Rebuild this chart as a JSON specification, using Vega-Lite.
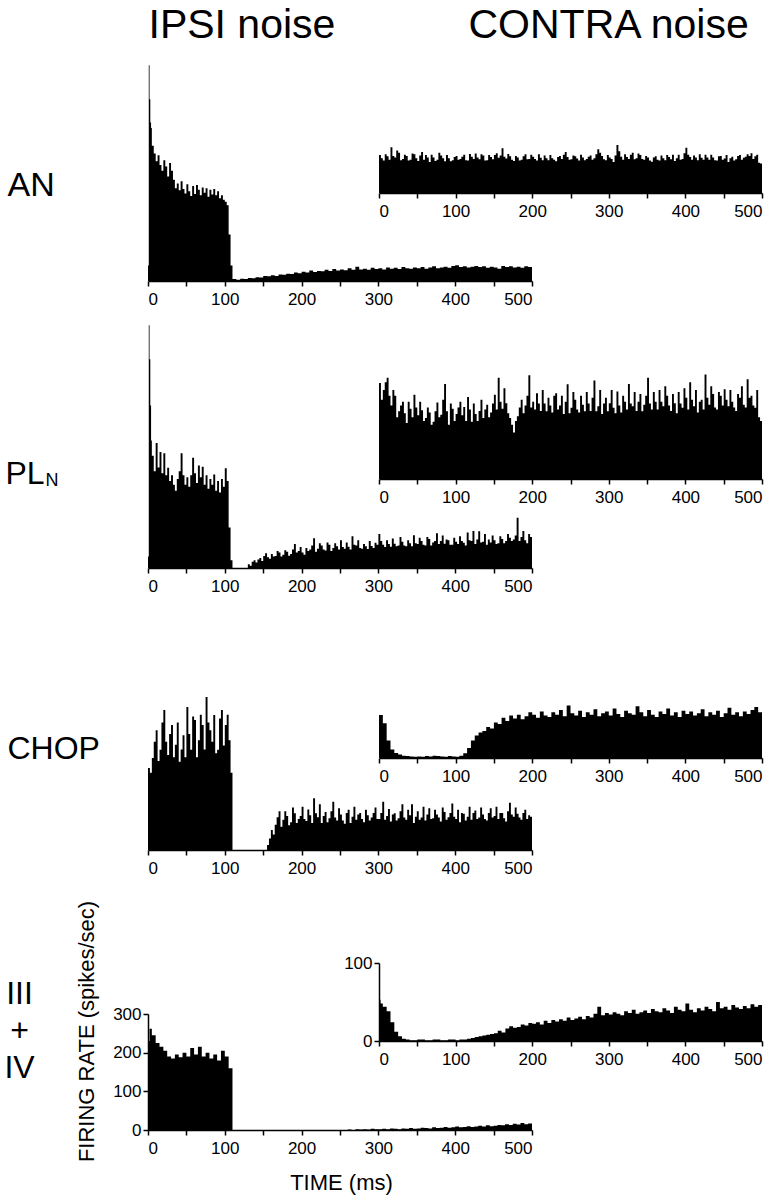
{
  "$schema": "https://vega.github.io/schema/vega-lite/v6.json",
  "width": 782,
  "height": 1200,
  "autosize": "none",
  "padding": 0,
  "background": "white",
  "config": {
    "view": {"stroke": null},
    "axis": {
      "grid": false,
      "domainColor": "black",
      "tickColor": "black",
      "labelColor": "black",
      "titleColor": "black",
      "labelFont": "Liberation Sans",
      "titleFont": "Liberation Sans",
      "labelFontSize": 17,
      "domainWidth": 1.5,
      "tickWidth": 1.5,
      "tickSize": 5,
      "labelPadding": 5,
      "titleFontWeight": "normal"
    }
  },
  "datasets": {
    "anI": [{"t":0,"v":40},{"t":1,"v":558},{"t":2,"v":470},{"t":3,"v":410},{"t":4,"v":396},{"t":5,"v":350},{"t":7.5,"v":330},{"t":10,"v":310},{"t":12.5,"v":325},{"t":15,"v":300},{"t":17.5,"v":285},{"t":20,"v":312},{"t":22.5,"v":296},{"t":25,"v":270},{"t":27.5,"v":305},{"t":30,"v":285},{"t":32.5,"v":262},{"t":35,"v":240},{"t":37.5,"v":252},{"t":40,"v":235},{"t":42.5,"v":258},{"t":45,"v":238},{"t":47.5,"v":226},{"t":50,"v":250},{"t":52.5,"v":232},{"t":55,"v":220},{"t":57.5,"v":246},{"t":60,"v":225},{"t":62.5,"v":248},{"t":65,"v":236},{"t":67.5,"v":222},{"t":70,"v":242},{"t":72.5,"v":228},{"t":75,"v":240},{"t":77.5,"v":218},{"t":80,"v":236},{"t":82.5,"v":224},{"t":85,"v":238},{"t":87.5,"v":222},{"t":90,"v":232},{"t":92.5,"v":214},{"t":95,"v":222},{"t":97.5,"v":210},{"t":100,"v":205},{"t":102.5,"v":196},{"t":105,"v":120},{"t":107.5,"v":40},{"t":110,"v":5},{"t":115,"v":3},{"t":120,"v":6},{"t":125,"v":5},{"t":130,"v":8},{"t":135,"v":7},{"t":140,"v":10},{"t":145,"v":9},{"t":150,"v":13},{"t":155,"v":12},{"t":160,"v":15},{"t":165,"v":13},{"t":170,"v":17},{"t":175,"v":16},{"t":180,"v":19},{"t":185,"v":18},{"t":190,"v":22},{"t":195,"v":20},{"t":200,"v":24},{"t":205,"v":22},{"t":210,"v":27},{"t":215,"v":23},{"t":220,"v":26},{"t":225,"v":25},{"t":230,"v":29},{"t":235,"v":26},{"t":240,"v":31},{"t":245,"v":27},{"t":250,"v":30},{"t":255,"v":28},{"t":260,"v":33},{"t":265,"v":29},{"t":270,"v":37},{"t":275,"v":30},{"t":280,"v":32},{"t":285,"v":29},{"t":290,"v":34},{"t":295,"v":31},{"t":300,"v":33},{"t":305,"v":30},{"t":310,"v":35},{"t":315,"v":32},{"t":320,"v":34},{"t":325,"v":31},{"t":330,"v":36},{"t":335,"v":33},{"t":340,"v":32},{"t":345,"v":35},{"t":350,"v":33},{"t":355,"v":36},{"t":360,"v":32},{"t":365,"v":35},{"t":370,"v":38},{"t":375,"v":33},{"t":380,"v":35},{"t":385,"v":37},{"t":390,"v":34},{"t":395,"v":39},{"t":400,"v":41},{"t":405,"v":36},{"t":410,"v":38},{"t":415,"v":35},{"t":420,"v":37},{"t":425,"v":39},{"t":430,"v":36},{"t":435,"v":38},{"t":440,"v":34},{"t":445,"v":37},{"t":450,"v":35},{"t":455,"v":32},{"t":460,"v":39},{"t":465,"v":36},{"t":470,"v":38},{"t":475,"v":35},{"t":480,"v":37},{"t":485,"v":34},{"t":490,"v":38},{"t":495,"v":36},{"t":500,"v":36}],
    "anC": [{"t":0,"v":98},{"t":5,"v":84},{"t":10,"v":95},{"t":15,"v":118},{"t":20,"v":92},{"t":25,"v":104},{"t":30,"v":88},{"t":35,"v":96},{"t":40,"v":86},{"t":45,"v":100},{"t":50,"v":83},{"t":55,"v":106},{"t":60,"v":98},{"t":65,"v":80},{"t":70,"v":92},{"t":75,"v":86},{"t":80,"v":97},{"t":85,"v":82},{"t":90,"v":90},{"t":95,"v":85},{"t":100,"v":96},{"t":105,"v":88},{"t":110,"v":99},{"t":115,"v":84},{"t":120,"v":94},{"t":125,"v":102},{"t":130,"v":87},{"t":135,"v":97},{"t":140,"v":85},{"t":145,"v":93},{"t":150,"v":98},{"t":155,"v":91},{"t":160,"v":116},{"t":165,"v":89},{"t":170,"v":95},{"t":175,"v":83},{"t":180,"v":92},{"t":185,"v":86},{"t":190,"v":100},{"t":195,"v":88},{"t":200,"v":94},{"t":205,"v":84},{"t":210,"v":91},{"t":215,"v":97},{"t":220,"v":85},{"t":225,"v":90},{"t":230,"v":82},{"t":235,"v":96},{"t":240,"v":99},{"t":245,"v":93},{"t":250,"v":87},{"t":255,"v":95},{"t":260,"v":84},{"t":265,"v":92},{"t":270,"v":88},{"t":275,"v":97},{"t":280,"v":90},{"t":285,"v":113},{"t":290,"v":96},{"t":295,"v":85},{"t":300,"v":92},{"t":305,"v":80},{"t":310,"v":124},{"t":315,"v":94},{"t":320,"v":100},{"t":325,"v":88},{"t":330,"v":104},{"t":335,"v":90},{"t":340,"v":98},{"t":345,"v":86},{"t":350,"v":92},{"t":355,"v":81},{"t":360,"v":95},{"t":365,"v":84},{"t":370,"v":90},{"t":375,"v":98},{"t":380,"v":87},{"t":385,"v":83},{"t":390,"v":99},{"t":395,"v":88},{"t":400,"v":117},{"t":405,"v":93},{"t":410,"v":97},{"t":415,"v":85},{"t":420,"v":91},{"t":425,"v":99},{"t":430,"v":86},{"t":435,"v":92},{"t":440,"v":84},{"t":445,"v":96},{"t":450,"v":89},{"t":455,"v":80},{"t":460,"v":94},{"t":465,"v":87},{"t":470,"v":98},{"t":475,"v":91},{"t":480,"v":100},{"t":485,"v":103},{"t":490,"v":95},{"t":495,"v":78},{"t":500,"v":78},
      {"t":2.5,"v":90},{"t":7.5,"v":100},{"t":12.5,"v":86},{"t":17.5,"v":96},{"t":22.5,"v":110},{"t":27.5,"v":85},{"t":32.5,"v":99},{"t":37.5,"v":84},{"t":42.5,"v":102},{"t":47.5,"v":90},{"t":52.5,"v":97},{"t":57.5,"v":86},{"t":62.5,"v":92},{"t":67.5,"v":99},{"t":72.5,"v":83},{"t":77.5,"v":104},{"t":82.5,"v":90},{"t":87.5,"v":98},{"t":92.5,"v":82},{"t":97.5,"v":93},{"t":102.5,"v":86},{"t":107.5,"v":94},{"t":112.5,"v":85},{"t":117.5,"v":101},{"t":122.5,"v":88},{"t":127.5,"v":92},{"t":132.5,"v":100},{"t":137.5,"v":84},{"t":142.5,"v":98},{"t":147.5,"v":87},{"t":152.5,"v":103},{"t":157.5,"v":97},{"t":162.5,"v":94},{"t":167.5,"v":101},{"t":172.5,"v":86},{"t":177.5,"v":96},{"t":182.5,"v":84},{"t":187.5,"v":95},{"t":192.5,"v":87},{"t":197.5,"v":99},{"t":202.5,"v":88},{"t":207.5,"v":100},{"t":212.5,"v":85},{"t":217.5,"v":90},{"t":222.5,"v":98},{"t":227.5,"v":86},{"t":232.5,"v":93},{"t":237.5,"v":88},{"t":242.5,"v":106},{"t":247.5,"v":86},{"t":252.5,"v":97},{"t":257.5,"v":89},{"t":262.5,"v":99},{"t":267.5,"v":85},{"t":272.5,"v":94},{"t":277.5,"v":86},{"t":282.5,"v":100},{"t":287.5,"v":104},{"t":292.5,"v":87},{"t":297.5,"v":98},{"t":302.5,"v":88},{"t":307.5,"v":97},{"t":312.5,"v":108},{"t":317.5,"v":86},{"t":322.5,"v":93},{"t":327.5,"v":99},{"t":332.5,"v":87},{"t":337.5,"v":102},{"t":342.5,"v":88},{"t":347.5,"v":96},{"t":352.5,"v":84},{"t":357.5,"v":92},{"t":362.5,"v":86},{"t":367.5,"v":97},{"t":372.5,"v":85},{"t":377.5,"v":93},{"t":382.5,"v":99},{"t":387.5,"v":90},{"t":392.5,"v":86},{"t":397.5,"v":103},{"t":402.5,"v":99},{"t":407.5,"v":86},{"t":412.5,"v":92},{"t":417.5,"v":100},{"t":422.5,"v":86},{"t":427.5,"v":92},{"t":432.5,"v":99},{"t":437.5,"v":85},{"t":442.5,"v":95},{"t":447.5,"v":86},{"t":452.5,"v":98},{"t":457.5,"v":90},{"t":462.5,"v":84},{"t":467.5,"v":96},{"t":472.5,"v":86},{"t":477.5,"v":94},{"t":482.5,"v":96},{"t":487.5,"v":88},{"t":492.5,"v":99},{"t":497.5,"v":76}],
    "plI": [{"t":0,"v":30},{"t":1,"v":628},{"t":2,"v":540},{"t":3,"v":420},{"t":4,"v":330},{"t":5,"v":290},{"t":7.5,"v":250},{"t":10,"v":323},{"t":12.5,"v":260},{"t":15,"v":300},{"t":17.5,"v":245},{"t":20,"v":297},{"t":22.5,"v":240},{"t":25,"v":259},{"t":27.5,"v":225},{"t":30,"v":240},{"t":32.5,"v":215},{"t":35,"v":200},{"t":37.5,"v":230},{"t":40,"v":250},{"t":42.5,"v":297},{"t":45,"v":240},{"t":47.5,"v":215},{"t":50,"v":235},{"t":52.5,"v":210},{"t":55,"v":240},{"t":57.5,"v":285},{"t":60,"v":245},{"t":62.5,"v":220},{"t":65,"v":265},{"t":67.5,"v":235},{"t":70,"v":262},{"t":72.5,"v":215},{"t":75,"v":240},{"t":77.5,"v":205},{"t":80,"v":230},{"t":82.5,"v":215},{"t":85,"v":242},{"t":87.5,"v":200},{"t":90,"v":225},{"t":92.5,"v":195},{"t":95,"v":230},{"t":97.5,"v":210},{"t":100,"v":258},{"t":102.5,"v":225},{"t":105,"v":105},{"t":107.5,"v":20},{"t":110,"v":0},{"t":130,"v":10},{"t":135,"v":16},{"t":140,"v":14},{"t":145,"v":26},{"t":150,"v":31},{"t":155,"v":28},{"t":160,"v":36},{"t":165,"v":31},{"t":170,"v":40},{"t":175,"v":34},{"t":180,"v":42},{"t":185,"v":36},{"t":190,"v":62},{"t":195,"v":44},{"t":200,"v":40},{"t":205,"v":52},{"t":210,"v":48},{"t":215,"v":77},{"t":220,"v":50},{"t":225,"v":58},{"t":230,"v":45},{"t":235,"v":60},{"t":240,"v":52},{"t":245,"v":56},{"t":250,"v":72},{"t":255,"v":50},{"t":260,"v":55},{"t":265,"v":82},{"t":270,"v":58},{"t":275,"v":52},{"t":280,"v":62},{"t":285,"v":49},{"t":290,"v":57},{"t":295,"v":65},{"t":300,"v":88},{"t":305,"v":60},{"t":310,"v":72},{"t":315,"v":55},{"t":320,"v":63},{"t":325,"v":58},{"t":330,"v":68},{"t":335,"v":56},{"t":340,"v":64},{"t":345,"v":85},{"t":350,"v":62},{"t":355,"v":70},{"t":360,"v":58},{"t":365,"v":75},{"t":370,"v":66},{"t":375,"v":90},{"t":380,"v":70},{"t":385,"v":63},{"t":390,"v":72},{"t":395,"v":60},{"t":400,"v":68},{"t":405,"v":82},{"t":410,"v":65},{"t":415,"v":92},{"t":420,"v":70},{"t":425,"v":62},{"t":430,"v":95},{"t":435,"v":68},{"t":440,"v":60},{"t":445,"v":66},{"t":450,"v":72},{"t":455,"v":64},{"t":460,"v":75},{"t":465,"v":70},{"t":470,"v":78},{"t":475,"v":74},{"t":480,"v":130},{"t":485,"v":80},{"t":490,"v":72},{"t":495,"v":88},{"t":500,"v":88},
      {"t":132.5,"v":6},{"t":137.5,"v":20},{"t":142.5,"v":22},{"t":147.5,"v":18},{"t":152.5,"v":38},{"t":157.5,"v":24},{"t":162.5,"v":30},{"t":167.5,"v":44},{"t":172.5,"v":30},{"t":177.5,"v":46},{"t":182.5,"v":32},{"t":187.5,"v":48},{"t":192.5,"v":40},{"t":197.5,"v":54},{"t":202.5,"v":34},{"t":207.5,"v":44},{"t":212.5,"v":58},{"t":217.5,"v":42},{"t":222.5,"v":64},{"t":227.5,"v":48},{"t":232.5,"v":66},{"t":237.5,"v":44},{"t":242.5,"v":64},{"t":247.5,"v":48},{"t":252.5,"v":54},{"t":257.5,"v":66},{"t":262.5,"v":48},{"t":267.5,"v":60},{"t":272.5,"v":72},{"t":277.5,"v":50},{"t":282.5,"v":56},{"t":287.5,"v":70},{"t":292.5,"v":52},{"t":297.5,"v":60},{"t":302.5,"v":70},{"t":307.5,"v":54},{"t":312.5,"v":62},{"t":317.5,"v":76},{"t":322.5,"v":56},{"t":327.5,"v":80},{"t":332.5,"v":58},{"t":337.5,"v":72},{"t":342.5,"v":56},{"t":347.5,"v":64},{"t":352.5,"v":78},{"t":357.5,"v":60},{"t":362.5,"v":80},{"t":367.5,"v":58},{"t":372.5,"v":70},{"t":377.5,"v":62},{"t":382.5,"v":84},{"t":387.5,"v":74},{"t":392.5,"v":60},{"t":397.5,"v":78},{"t":402.5,"v":62},{"t":407.5,"v":70},{"t":412.5,"v":58},{"t":417.5,"v":72},{"t":422.5,"v":96},{"t":427.5,"v":74},{"t":432.5,"v":66},{"t":437.5,"v":88},{"t":442.5,"v":74},{"t":447.5,"v":84},{"t":452.5,"v":62},{"t":457.5,"v":82},{"t":462.5,"v":64},{"t":467.5,"v":88},{"t":472.5,"v":70},{"t":477.5,"v":84},{"t":482.5,"v":70},{"t":487.5,"v":96},{"t":492.5,"v":64},{"t":497.5,"v":80}],
    "plC": [{"t":0,"v":248},{"t":5,"v":230},{"t":10,"v":262},{"t":15,"v":190},{"t":20,"v":215},{"t":25,"v":175},{"t":30,"v":200},{"t":35,"v":145},{"t":40,"v":182},{"t":45,"v":218},{"t":50,"v":165},{"t":55,"v":178},{"t":60,"v":158},{"t":65,"v":172},{"t":70,"v":148},{"t":75,"v":198},{"t":80,"v":166},{"t":85,"v":246},{"t":90,"v":140},{"t":95,"v":182},{"t":100,"v":168},{"t":105,"v":200},{"t":110,"v":186},{"t":115,"v":212},{"t":120,"v":148},{"t":125,"v":168},{"t":130,"v":176},{"t":135,"v":158},{"t":140,"v":192},{"t":145,"v":172},{"t":150,"v":218},{"t":155,"v":262},{"t":160,"v":182},{"t":165,"v":196},{"t":170,"v":158},{"t":175,"v":120},{"t":180,"v":162},{"t":185,"v":205},{"t":190,"v":190},{"t":195,"v":268},{"t":200,"v":200},{"t":205,"v":222},{"t":210,"v":176},{"t":215,"v":195},{"t":220,"v":210},{"t":225,"v":172},{"t":230,"v":222},{"t":235,"v":190},{"t":240,"v":168},{"t":245,"v":245},{"t":250,"v":184},{"t":255,"v":205},{"t":260,"v":172},{"t":265,"v":192},{"t":270,"v":225},{"t":275,"v":176},{"t":280,"v":255},{"t":285,"v":188},{"t":290,"v":168},{"t":295,"v":210},{"t":300,"v":196},{"t":305,"v":184},{"t":310,"v":226},{"t":315,"v":172},{"t":320,"v":200},{"t":325,"v":246},{"t":330,"v":188},{"t":335,"v":176},{"t":340,"v":220},{"t":345,"v":192},{"t":350,"v":262},{"t":355,"v":180},{"t":360,"v":200},{"t":365,"v":230},{"t":370,"v":188},{"t":375,"v":215},{"t":380,"v":176},{"t":385,"v":196},{"t":390,"v":225},{"t":395,"v":184},{"t":400,"v":210},{"t":405,"v":250},{"t":410,"v":188},{"t":415,"v":172},{"t":420,"v":205},{"t":425,"v":270},{"t":430,"v":192},{"t":435,"v":220},{"t":440,"v":180},{"t":445,"v":215},{"t":450,"v":232},{"t":455,"v":188},{"t":460,"v":200},{"t":465,"v":176},{"t":470,"v":210},{"t":475,"v":192},{"t":480,"v":258},{"t":485,"v":215},{"t":490,"v":184},{"t":495,"v":160},{"t":500,"v":160},
      {"t":2.5,"v":205},{"t":7.5,"v":250},{"t":12.5,"v":215},{"t":17.5,"v":230},{"t":22.5,"v":160},{"t":27.5,"v":190},{"t":32.5,"v":170},{"t":37.5,"v":200},{"t":42.5,"v":160},{"t":47.5,"v":185},{"t":52.5,"v":200},{"t":57.5,"v":150},{"t":62.5,"v":185},{"t":67.5,"v":140},{"t":72.5,"v":175},{"t":77.5,"v":160},{"t":82.5,"v":205},{"t":87.5,"v":175},{"t":92.5,"v":195},{"t":97.5,"v":150},{"t":102.5,"v":185},{"t":107.5,"v":165},{"t":112.5,"v":150},{"t":117.5,"v":180},{"t":122.5,"v":195},{"t":127.5,"v":150},{"t":132.5,"v":205},{"t":137.5,"v":180},{"t":142.5,"v":160},{"t":147.5,"v":195},{"t":152.5,"v":180},{"t":157.5,"v":200},{"t":162.5,"v":235},{"t":167.5,"v":170},{"t":172.5,"v":140},{"t":177.5,"v":150},{"t":182.5,"v":185},{"t":187.5,"v":170},{"t":192.5,"v":215},{"t":197.5,"v":185},{"t":202.5,"v":180},{"t":207.5,"v":195},{"t":212.5,"v":230},{"t":217.5,"v":175},{"t":222.5,"v":190},{"t":227.5,"v":215},{"t":232.5,"v":180},{"t":237.5,"v":215},{"t":242.5,"v":200},{"t":247.5,"v":170},{"t":252.5,"v":225},{"t":257.5,"v":180},{"t":262.5,"v":215},{"t":267.5,"v":175},{"t":272.5,"v":195},{"t":277.5,"v":210},{"t":282.5,"v":175},{"t":287.5,"v":230},{"t":292.5,"v":195},{"t":297.5,"v":175},{"t":302.5,"v":230},{"t":307.5,"v":170},{"t":312.5,"v":190},{"t":317.5,"v":215},{"t":322.5,"v":180},{"t":327.5,"v":195},{"t":332.5,"v":225},{"t":337.5,"v":200},{"t":342.5,"v":175},{"t":347.5,"v":215},{"t":352.5,"v":195},{"t":357.5,"v":225},{"t":362.5,"v":180},{"t":367.5,"v":200},{"t":372.5,"v":240},{"t":377.5,"v":190},{"t":382.5,"v":220},{"t":387.5,"v":170},{"t":392.5,"v":195},{"t":397.5,"v":235},{"t":402.5,"v":180},{"t":407.5,"v":205},{"t":412.5,"v":230},{"t":417.5,"v":200},{"t":422.5,"v":180},{"t":427.5,"v":210},{"t":432.5,"v":240},{"t":437.5,"v":185},{"t":442.5,"v":225},{"t":447.5,"v":190},{"t":452.5,"v":205},{"t":457.5,"v":230},{"t":462.5,"v":185},{"t":467.5,"v":220},{"t":472.5,"v":240},{"t":477.5,"v":185},{"t":482.5,"v":210},{"t":487.5,"v":190},{"t":492.5,"v":230},{"t":497.5,"v":150}],
    "chI": [{"t":0,"v":212},{"t":5,"v":238},{"t":10,"v":310},{"t":15,"v":259},{"t":20,"v":362},{"t":25,"v":246},{"t":30,"v":323},{"t":35,"v":272},{"t":40,"v":228},{"t":45,"v":297},{"t":50,"v":370},{"t":55,"v":259},{"t":60,"v":336},{"t":65,"v":284},{"t":70,"v":323},{"t":75,"v":396},{"t":80,"v":310},{"t":85,"v":349},{"t":90,"v":259},{"t":95,"v":362},{"t":100,"v":323},{"t":105,"v":284},{"t":110,"v":0},{"t":155,"v":13},{"t":160,"v":52},{"t":165,"v":65},{"t":170,"v":100},{"t":175,"v":78},{"t":180,"v":88},{"t":185,"v":72},{"t":190,"v":95},{"t":195,"v":80},{"t":200,"v":112},{"t":205,"v":75},{"t":210,"v":90},{"t":215,"v":134},{"t":220,"v":85},{"t":225,"v":70},{"t":230,"v":98},{"t":235,"v":82},{"t":240,"v":125},{"t":245,"v":76},{"t":250,"v":92},{"t":255,"v":68},{"t":260,"v":104},{"t":265,"v":86},{"t":270,"v":78},{"t":275,"v":96},{"t":280,"v":72},{"t":285,"v":90},{"t":290,"v":84},{"t":295,"v":110},{"t":300,"v":80},{"t":305,"v":125},{"t":310,"v":88},{"t":315,"v":74},{"t":320,"v":95},{"t":325,"v":82},{"t":330,"v":118},{"t":335,"v":78},{"t":340,"v":90},{"t":345,"v":70},{"t":350,"v":100},{"t":355,"v":84},{"t":360,"v":76},{"t":365,"v":108},{"t":370,"v":82},{"t":375,"v":92},{"t":380,"v":74},{"t":385,"v":98},{"t":390,"v":85},{"t":395,"v":120},{"t":400,"v":80},{"t":405,"v":72},{"t":410,"v":94},{"t":415,"v":86},{"t":420,"v":78},{"t":425,"v":102},{"t":430,"v":84},{"t":435,"v":92},{"t":440,"v":76},{"t":445,"v":108},{"t":450,"v":88},{"t":455,"v":80},{"t":460,"v":96},{"t":465,"v":74},{"t":470,"v":122},{"t":475,"v":86},{"t":480,"v":94},{"t":485,"v":78},{"t":490,"v":104},{"t":495,"v":90},{"t":500,"v":90},
      {"t":2.5,"v":200},{"t":7.5,"v":280},{"t":12.5,"v":230},{"t":17.5,"v":330},{"t":22.5,"v":280},{"t":27.5,"v":300},{"t":32.5,"v":240},{"t":37.5,"v":330},{"t":42.5,"v":260},{"t":47.5,"v":240},{"t":52.5,"v":300},{"t":57.5,"v":345},{"t":62.5,"v":240},{"t":67.5,"v":350},{"t":72.5,"v":260},{"t":77.5,"v":330},{"t":82.5,"v":280},{"t":87.5,"v":250},{"t":92.5,"v":340},{"t":97.5,"v":270},{"t":102.5,"v":350},{"t":107.5,"v":200},{"t":157.5,"v":30},{"t":162.5,"v":40},{"t":167.5,"v":85},{"t":172.5,"v":60},{"t":177.5,"v":100},{"t":182.5,"v":64},{"t":187.5,"v":110},{"t":192.5,"v":70},{"t":197.5,"v":88},{"t":202.5,"v":80},{"t":207.5,"v":105},{"t":212.5,"v":70},{"t":217.5,"v":95},{"t":222.5,"v":118},{"t":227.5,"v":88},{"t":232.5,"v":72},{"t":237.5,"v":100},{"t":242.5,"v":84},{"t":247.5,"v":108},{"t":252.5,"v":76},{"t":257.5,"v":96},{"t":262.5,"v":70},{"t":267.5,"v":112},{"t":272.5,"v":92},{"t":277.5,"v":80},{"t":282.5,"v":104},{"t":287.5,"v":76},{"t":292.5,"v":96},{"t":297.5,"v":80},{"t":302.5,"v":96},{"t":307.5,"v":78},{"t":312.5,"v":106},{"t":317.5,"v":92},{"t":322.5,"v":76},{"t":327.5,"v":100},{"t":332.5,"v":84},{"t":337.5,"v":104},{"t":342.5,"v":118},{"t":347.5,"v":86},{"t":352.5,"v":78},{"t":357.5,"v":112},{"t":362.5,"v":92},{"t":367.5,"v":80},{"t":372.5,"v":104},{"t":377.5,"v":84},{"t":382.5,"v":110},{"t":387.5,"v":78},{"t":392.5,"v":96},{"t":397.5,"v":86},{"t":402.5,"v":104},{"t":407.5,"v":96},{"t":412.5,"v":76},{"t":417.5,"v":112},{"t":422.5,"v":96},{"t":427.5,"v":80},{"t":432.5,"v":110},{"t":437.5,"v":80},{"t":442.5,"v":96},{"t":447.5,"v":84},{"t":452.5,"v":112},{"t":457.5,"v":96},{"t":462.5,"v":82},{"t":467.5,"v":100},{"t":472.5,"v":92},{"t":477.5,"v":110},{"t":482.5,"v":84},{"t":487.5,"v":96},{"t":492.5,"v":80},{"t":497.5,"v":86}],
    "chC": [{"t":0,"v":111},{"t":5,"v":90},{"t":10,"v":45},{"t":15,"v":22},{"t":20,"v":13},{"t":25,"v":9},{"t":30,"v":6},{"t":35,"v":5},{"t":40,"v":4},{"t":45,"v":3},{"t":50,"v":4},{"t":55,"v":3},{"t":60,"v":5},{"t":65,"v":4},{"t":70,"v":6},{"t":75,"v":5},{"t":80,"v":4},{"t":85,"v":3},{"t":90,"v":5},{"t":95,"v":4},{"t":100,"v":3},{"t":105,"v":6},{"t":110,"v":12},{"t":115,"v":26},{"t":120,"v":45},{"t":125,"v":58},{"t":130,"v":66},{"t":135,"v":70},{"t":140,"v":80},{"t":145,"v":76},{"t":150,"v":92},{"t":155,"v":88},{"t":160,"v":104},{"t":165,"v":96},{"t":170,"v":110},{"t":175,"v":102},{"t":180,"v":112},{"t":185,"v":100},{"t":190,"v":108},{"t":195,"v":118},{"t":200,"v":112},{"t":205,"v":104},{"t":210,"v":120},{"t":215,"v":110},{"t":220,"v":106},{"t":225,"v":118},{"t":230,"v":112},{"t":235,"v":124},{"t":240,"v":108},{"t":245,"v":136},{"t":250,"v":116},{"t":255,"v":110},{"t":260,"v":122},{"t":265,"v":106},{"t":270,"v":118},{"t":275,"v":112},{"t":280,"v":126},{"t":285,"v":108},{"t":290,"v":116},{"t":295,"v":120},{"t":300,"v":110},{"t":305,"v":128},{"t":310,"v":114},{"t":315,"v":106},{"t":320,"v":122},{"t":325,"v":116},{"t":330,"v":112},{"t":335,"v":134},{"t":340,"v":118},{"t":345,"v":108},{"t":350,"v":124},{"t":355,"v":112},{"t":360,"v":106},{"t":365,"v":120},{"t":370,"v":114},{"t":375,"v":128},{"t":380,"v":110},{"t":385,"v":118},{"t":390,"v":106},{"t":395,"v":122},{"t":400,"v":114},{"t":405,"v":120},{"t":410,"v":110},{"t":415,"v":116},{"t":420,"v":126},{"t":425,"v":108},{"t":430,"v":118},{"t":435,"v":112},{"t":440,"v":122},{"t":445,"v":106},{"t":450,"v":116},{"t":455,"v":130},{"t":460,"v":112},{"t":465,"v":118},{"t":470,"v":108},{"t":475,"v":120},{"t":480,"v":114},{"t":485,"v":124},{"t":490,"v":132},{"t":495,"v":118},{"t":500,"v":118}],
    "tI": [{"t":0,"v":230},{"t":2,"v":262},{"t":5,"v":245},{"t":10,"v":225},{"t":15,"v":215},{"t":20,"v":205},{"t":25,"v":190},{"t":30,"v":185},{"t":35,"v":195},{"t":40,"v":188},{"t":45,"v":200},{"t":50,"v":190},{"t":55,"v":212},{"t":60,"v":195},{"t":65,"v":215},{"t":70,"v":190},{"t":75,"v":200},{"t":80,"v":185},{"t":85,"v":195},{"t":90,"v":180},{"t":95,"v":205},{"t":100,"v":190},{"t":105,"v":160},{"t":110,"v":0},{"t":260,"v":1},{"t":265,"v":0},{"t":270,"v":2},{"t":275,"v":1},{"t":280,"v":2},{"t":285,"v":1},{"t":290,"v":3},{"t":295,"v":2},{"t":300,"v":2},{"t":305,"v":3},{"t":310,"v":2},{"t":315,"v":4},{"t":320,"v":3},{"t":325,"v":2},{"t":330,"v":4},{"t":335,"v":3},{"t":340,"v":5},{"t":345,"v":3},{"t":350,"v":4},{"t":355,"v":6},{"t":360,"v":5},{"t":365,"v":4},{"t":370,"v":7},{"t":375,"v":5},{"t":380,"v":6},{"t":385,"v":8},{"t":390,"v":6},{"t":395,"v":7},{"t":400,"v":9},{"t":405,"v":7},{"t":410,"v":8},{"t":415,"v":10},{"t":420,"v":8},{"t":425,"v":9},{"t":430,"v":11},{"t":435,"v":9},{"t":440,"v":12},{"t":445,"v":10},{"t":450,"v":11},{"t":455,"v":13},{"t":460,"v":12},{"t":465,"v":15},{"t":470,"v":13},{"t":475,"v":16},{"t":480,"v":14},{"t":485,"v":18},{"t":490,"v":15},{"t":495,"v":17},{"t":500,"v":17}],
    "tC": [{"t":0,"v":53},{"t":2,"v":48},{"t":5,"v":44},{"t":10,"v":38},{"t":15,"v":24},{"t":20,"v":12},{"t":25,"v":6},{"t":30,"v":3},{"t":35,"v":2},{"t":40,"v":1},{"t":50,"v":2},{"t":60,"v":1},{"t":70,"v":2},{"t":80,"v":1},{"t":90,"v":2},{"t":100,"v":1},{"t":105,"v":2},{"t":110,"v":2},{"t":115,"v":3},{"t":120,"v":4},{"t":125,"v":5},{"t":130,"v":6},{"t":135,"v":7},{"t":140,"v":8},{"t":145,"v":9},{"t":150,"v":10},{"t":155,"v":13},{"t":160,"v":11},{"t":165,"v":16},{"t":170,"v":19},{"t":175,"v":17},{"t":180,"v":18},{"t":185,"v":21},{"t":190,"v":20},{"t":195,"v":23},{"t":200,"v":22},{"t":205,"v":24},{"t":210,"v":21},{"t":215,"v":26},{"t":220,"v":23},{"t":225,"v":27},{"t":230,"v":25},{"t":235,"v":28},{"t":240,"v":26},{"t":245,"v":30},{"t":250,"v":27},{"t":255,"v":29},{"t":260,"v":31},{"t":265,"v":28},{"t":270,"v":32},{"t":275,"v":30},{"t":280,"v":35},{"t":285,"v":44},{"t":290,"v":33},{"t":295,"v":36},{"t":300,"v":34},{"t":305,"v":37},{"t":310,"v":35},{"t":315,"v":33},{"t":320,"v":38},{"t":325,"v":36},{"t":330,"v":40},{"t":335,"v":35},{"t":340,"v":37},{"t":345,"v":39},{"t":350,"v":36},{"t":355,"v":41},{"t":360,"v":38},{"t":365,"v":37},{"t":370,"v":42},{"t":375,"v":39},{"t":380,"v":36},{"t":385,"v":44},{"t":390,"v":40},{"t":395,"v":38},{"t":400,"v":48},{"t":405,"v":40},{"t":410,"v":37},{"t":415,"v":42},{"t":420,"v":39},{"t":425,"v":44},{"t":430,"v":41},{"t":435,"v":38},{"t":440,"v":50},{"t":445,"v":42},{"t":450,"v":44},{"t":455,"v":40},{"t":460,"v":46},{"t":465,"v":43},{"t":470,"v":41},{"t":475,"v":45},{"t":480,"v":42},{"t":485,"v":47},{"t":490,"v":44},{"t":495,"v":46},{"t":500,"v":46}]
  },
  "resolve": {"scale": {"x": "independent", "y": "independent"}, "axis": {"x": "independent", "y": "independent"}},
  "layer": [
    {
      "data": {"name": "anI"},
      "mark": {"type": "area", "interpolate": "step-after", "color": "black"},
      "encoding": {
        "x": {"field": "t", "type": "quantitative", "scale": {"domain": [0, 500], "range": [148, 532], "nice": false, "zero": false},
              "axis": {"orient": "bottom", "offset": -919, "values": [0,50,100,150,200,250,300,350,400,450,500], "labelExpr": "datum.value % 100 === 0 ? datum.label : ''",
                       "title": "IPSI noise", "titleX": 148, "titleY": -244, "titleAlign": "left", "titleBaseline": "alphabetic", "titleFontSize": 41}},
        "y": {"field": "v", "type": "quantitative", "scale": {"domain": [0, 300], "range": [281, 165], "nice": false},
              "axis": {"orient": "left", "offset": -148, "domain": false, "ticks": false, "labels": false,
                       "title": "AN", "titleAngle": 0, "titleX": -141, "titleY": 195, "titleAlign": "left", "titleBaseline": "alphabetic", "titleFontSize": 34}}
      }
    },
    {
      "data": {"name": "anC"},
      "mark": {"type": "area", "interpolate": "step-after", "color": "black"},
      "encoding": {
        "x": {"field": "t", "type": "quantitative", "scale": {"domain": [0, 500], "range": [379, 762], "nice": false, "zero": false},
              "axis": {"orient": "bottom", "offset": -1007, "values": [0,50,100,150,200,250,300,350,400,450,500], "labelExpr": "datum.value % 100 === 0 ? datum.label : ''",
                       "title": "CONTRA noise", "titleX": 468, "titleY": -156, "titleAlign": "left", "titleBaseline": "alphabetic", "titleFontSize": 41}},
        "y": {"field": "v", "type": "quantitative", "scale": {"domain": [0, 300], "range": [193, 77], "nice": false}, "axis": null}
      }
    },
    {
      "data": {"name": "plI"},
      "mark": {"type": "area", "interpolate": "step-after", "color": "black"},
      "encoding": {
        "x": {"field": "t", "type": "quantitative", "scale": {"domain": [0, 500], "range": [148, 532], "nice": false, "zero": false},
              "axis": {"orient": "bottom", "offset": -632, "values": [0,50,100,150,200,250,300,350,400,450,500], "labelExpr": "datum.value % 100 === 0 ? datum.label : ''", "title": null}},
        "y": {"field": "v", "type": "quantitative", "scale": {"domain": [0, 300], "range": [568, 452], "nice": false},
              "axis": {"orient": "left", "offset": -148, "domain": false, "ticks": false, "labels": false,
                       "title": "PL", "titleAngle": 0, "titleX": -143, "titleY": 483, "titleAlign": "left", "titleBaseline": "alphabetic", "titleFontSize": 32}}
      }
    },
    {
      "data": {"name": "plC"},
      "mark": {"type": "area", "interpolate": "step-after", "color": "black"},
      "encoding": {
        "x": {"field": "t", "type": "quantitative", "scale": {"domain": [0, 500], "range": [379, 762], "nice": false, "zero": false},
              "axis": {"orient": "bottom", "offset": -721, "values": [0,50,100,150,200,250,300,350,400,450,500], "labelExpr": "datum.value % 100 === 0 ? datum.label : ''", "title": null}},
        "y": {"field": "v", "type": "quantitative", "scale": {"domain": [0, 300], "range": [479, 363], "nice": false},
              "axis": {"orient": "left", "offset": -379, "domain": false, "ticks": false, "labels": false,
                       "title": "N", "titleAngle": 0, "titleX": -334, "titleY": 485, "titleAlign": "left", "titleBaseline": "alphabetic", "titleFontSize": 18}}
      }
    },
    {
      "data": {"name": "chI"},
      "mark": {"type": "area", "interpolate": "step-after", "color": "black"},
      "encoding": {
        "x": {"field": "t", "type": "quantitative", "scale": {"domain": [0, 500], "range": [148, 532], "nice": false, "zero": false},
              "axis": {"orient": "bottom", "offset": -350, "values": [0,50,100,150,200,250,300,350,400,450,500], "labelExpr": "datum.value % 100 === 0 ? datum.label : ''", "title": null}},
        "y": {"field": "v", "type": "quantitative", "scale": {"domain": [0, 300], "range": [850, 734], "nice": false},
              "axis": {"orient": "left", "offset": -148, "domain": false, "ticks": false, "labels": false,
                       "title": "CHOP", "titleAngle": 0, "titleX": -141, "titleY": 758, "titleAlign": "left", "titleBaseline": "alphabetic", "titleFontSize": 32}}
      }
    },
    {
      "data": {"name": "chC"},
      "mark": {"type": "area", "interpolate": "step-after", "color": "black"},
      "encoding": {
        "x": {"field": "t", "type": "quantitative", "scale": {"domain": [0, 500], "range": [379, 762], "nice": false, "zero": false},
              "axis": {"orient": "bottom", "offset": -442, "values": [0,50,100,150,200,250,300,350,400,450,500], "labelExpr": "datum.value % 100 === 0 ? datum.label : ''", "title": null}},
        "y": {"field": "v", "type": "quantitative", "scale": {"domain": [0, 300], "range": [758, 642], "nice": false}, "axis": null}
      }
    },
    {
      "data": {"name": "tI"},
      "mark": {"type": "area", "interpolate": "step-after", "color": "black"},
      "encoding": {
        "x": {"field": "t", "type": "quantitative", "scale": {"domain": [0, 500], "range": [148, 532], "nice": false, "zero": false},
              "axis": {"orient": "bottom", "offset": -70, "values": [0,50,100,150,200,250,300,350,400,450,500], "labelExpr": "datum.value % 100 === 0 ? datum.label : ''",
                       "title": "TIME (ms)", "titleX": 341, "titleY": 59, "titleAlign": "center", "titleBaseline": "alphabetic", "titleFontSize": 22}},
        "y": {"field": "v", "type": "quantitative", "scale": {"domain": [0, 300], "range": [1130, 1014], "nice": false},
              "axis": {"orient": "left", "offset": -148, "values": [0, 100, 200, 300], "labelPadding": 2,
                       "title": "FIRING RATE (spikes/sec)", "titleAngle": 270, "titleX": -55, "titleY": 1031, "titleAlign": "center", "titleBaseline": "alphabetic", "titleFontSize": 22}}
      }
    },
    {
      "data": {"name": "tC"},
      "mark": {"type": "area", "interpolate": "step-after", "color": "black"},
      "encoding": {
        "x": {"field": "t", "type": "quantitative", "scale": {"domain": [0, 500], "range": [379, 762], "nice": false, "zero": false},
              "axis": {"orient": "bottom", "offset": -159, "values": [0,50,100,150,200,250,300,350,400,450,500], "labelExpr": "datum.value % 100 === 0 ? datum.label : ''", "title": null}},
        "y": {"field": "v", "type": "quantitative", "scale": {"domain": [0, 100], "range": [1041, 963], "nice": false},
              "axis": {"orient": "left", "offset": -379, "values": [0, 100], "labelPadding": 2,
                       "title": ["III", "+", "IV"], "titleAngle": 0, "titleX": -360, "titleY": 1003, "titleAlign": "center", "titleBaseline": "alphabetic", "titleFontSize": 32, "titleLineHeight": 37}}
      }
    }
  ]
}
